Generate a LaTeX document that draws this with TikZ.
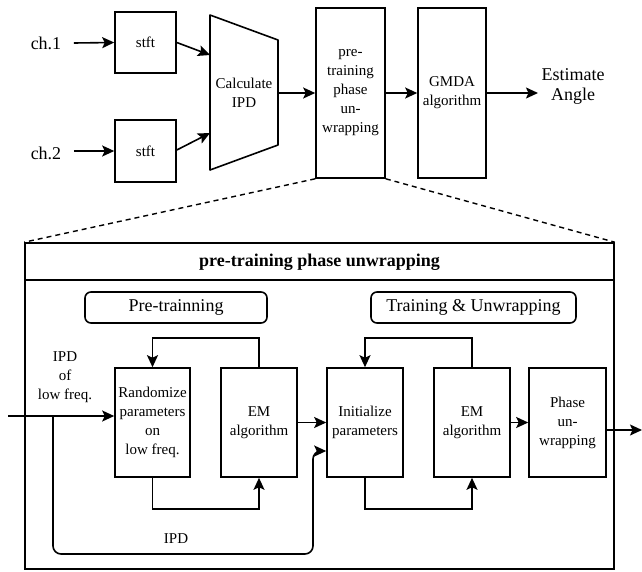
\documentclass[tikz,border=0pt]{standalone}
\usepackage{fontspec}
\setmainfont{Liberation Serif}
\usetikzlibrary{arrows.meta}
\begin{document}
\begin{tikzpicture}[x=1pt,y=-1pt,
  ln/.style={line width=1.6pt},
  box/.style={draw, line width=1.6pt, align=center, inner sep=0pt, font=\fontsize{15}{19}\selectfont},
  arr/.style={line width=1.6pt, -{Stealth[length=12pt,width=11pt,inset=2.5pt]}},
  big/.style={font=\fontsize{18}{20}\selectfont, align=center},
  mid/.style={font=\fontsize{15}{19}\selectfont, align=center},
  dsh/.style={line width=1.4pt, dash pattern=on 5pt off 4pt}]
\useasboundingbox (0,0) rectangle (642,571);
% ---------- top row ----------
\node[big] (c1) at (46,43) {ch.1};
\node[big] (c2) at (46,153) {ch.2};
\node[box, minimum width=61pt, minimum height=61pt] (s1) at (145.5,42.5) {stft};
\node[box, minimum width=61pt, minimum height=62pt] (s2) at (145.5,151) {stft};
\draw[arr] ([xshift=9pt]c1.east) -- (s1.west);
\draw[arr] ([xshift=9pt]c2.east |- s2.west) -- (s2.west);
% trapezoid
\draw[ln, line join=round] (210,15) -- (278,40) -- (278,145) -- (210,170) -- cycle;
\node[mid] (calc) at (244,93) {Calculate\\IPD};
\coordinate (t1) at (210,55);
\coordinate (t2) at (210,133);
\coordinate (tE) at (278,93);
\draw[arr] (s1.east) -- (t1);
\draw[arr] (s2.east |- 0,150) -- (t2);
\node[box, minimum width=69pt, minimum height=170pt] (pre) at (350.5,93) {pre-\\training\\phase\\un-\\wrapping};
\node[box, minimum width=68pt, minimum height=170pt] (gm) at (452,93) {GMDA\\algorithm};
\draw[arr] (tE) -- (pre.west |- tE);
\draw[arr] (pre.east) -- (gm.west);
\node[big, anchor=west] (est) at (538,86) {Estimate\\Angle};
\draw[arr] (gm.east) -- (est.west |- gm.east);
% ---------- detail box ----------
\node[draw, ln, minimum width=589pt, minimum height=326pt, inner sep=0pt] (outer) at (319.5,406) {};
\draw[ln] (outer.west |- 0,280) -- (outer.east |- 0,280);
\draw[dsh] (pre.south west) -- (outer.north west);
\draw[dsh] (pre.south east) -- (outer.north east);
\node[font=\bfseries\fontsize{18}{20}\selectfont] (title) at (319.5,262) {pre-training phase unwrapping};
\node[draw, ln, rounded corners=6pt, minimum width=182pt, minimum height=31pt, big] (ptr) at (176,307.5) {Pre-trainning};
\node[draw, ln, rounded corners=6pt, minimum width=205pt, minimum height=31pt, big] (tu) at (473.5,307.5) {Training \& Unwrapping};
% inner blocks
\node[box, minimum width=75pt, minimum height=109pt] (rand) at (152.5,422.5) {Randomize\\parameters\\on\\low freq.};
\node[box, minimum width=76pt, minimum height=109pt] (em1) at (259,422.5) {EM\\algorithm};
\node[box, minimum width=76pt, minimum height=109pt] (init) at (365,422.5) {Initialize\\parameters};
\node[box, minimum width=76pt, minimum height=109pt] (em2) at (472,422.5) {EM\\algorithm};
\node[box, minimum width=77pt, minimum height=109pt] (ph) at (567.5,422.5) {Phase\\un-\\wrapping};
\node[mid] (lab) at (65,377) {IPD\\of\\low freq.};
\coordinate (in) at (8,416);
\coordinate (br) at (53,416);
\coordinate (out) at (642,430);
\draw[arr] (in) -- (rand.west |- in);
\draw[arr] (em1.east) -- (init.west);
\draw[arr] (em2.east) -- (ph.west);
\draw[arr] (ph.east |- out) -- (out);
% loops
\draw[arr] (em1.north) -- (em1.north |- 0,338) -| (rand.north);
\draw[arr] (em2.north) -- (em2.north |- 0,338) -| (init.north);
\draw[arr] (rand.south) -- (rand.south |- 0,509) -| (em1.south);
\draw[arr] (init.south) -- (init.south |- 0,509) -| (em2.south);
% IPD bypass
\draw[arr, rounded corners=8pt] (br) -- (br |- 0,554) -- (313,554) -- (313,451) -- (init.west |- 0,451);
\node[mid] (ipd) at (176,539) {IPD};
\end{tikzpicture}
\end{document}
